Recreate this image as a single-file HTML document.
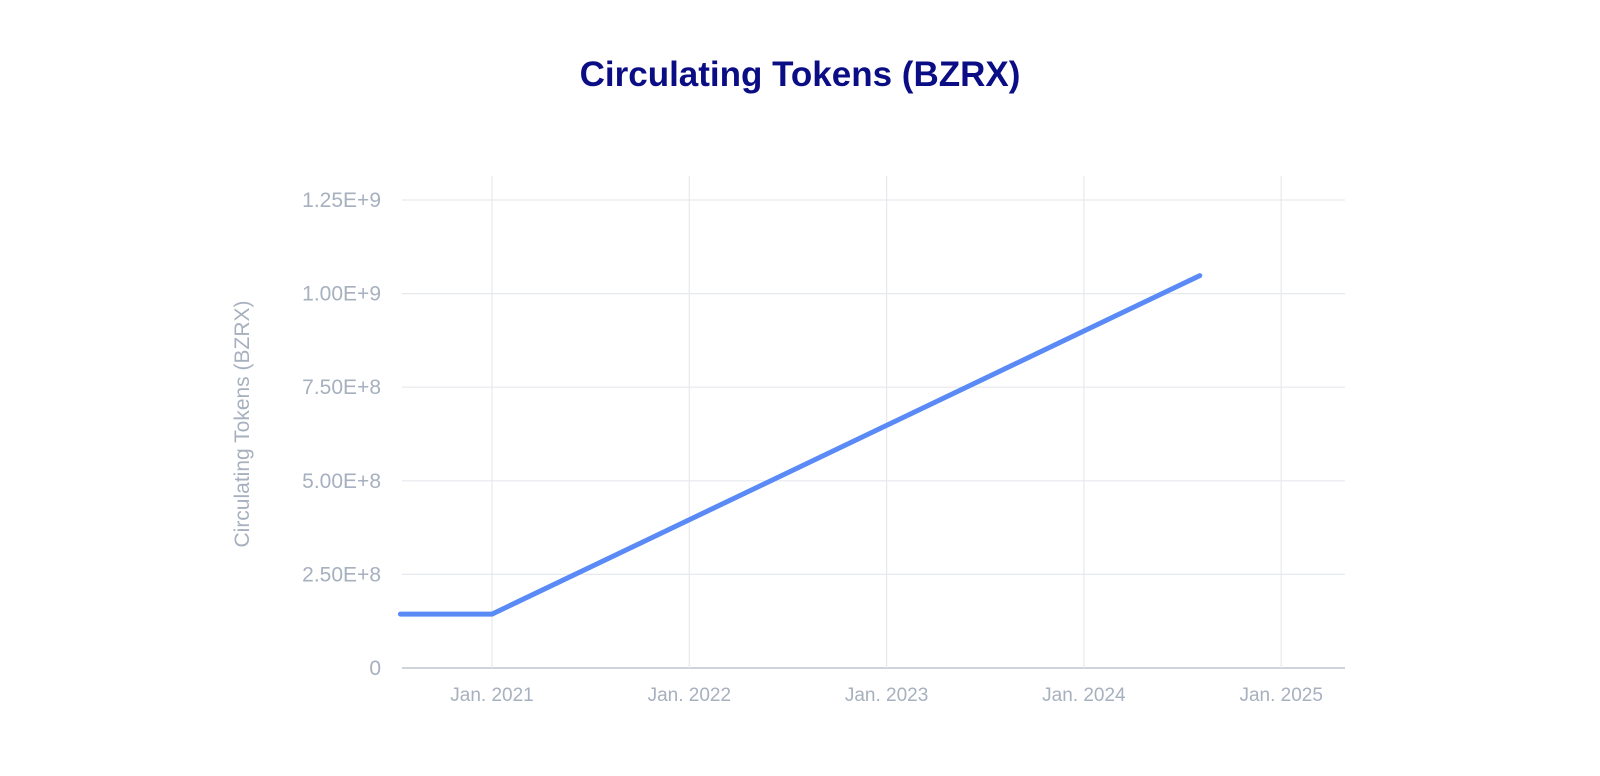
<!DOCTYPE html>
<html><head><meta charset="utf-8"><style>
html,body{margin:0;padding:0;background:#fff;}
svg{display:block;font-family:"Liberation Sans",sans-serif;}
</style></head><body>
<svg id="chart" width="1600" height="776" viewBox="0 0 1600 776">
<text x="800" y="86" text-anchor="middle" font-size="35" font-weight="bold" fill="#0b0d85">Circulating Tokens (BZRX)</text>
<text transform="translate(249,424) rotate(-90)" text-anchor="middle" font-size="21" fill="#a7b0bf">Circulating Tokens (BZRX)</text>
<g id="grid"></g><g id="marks"></g>
</svg>
<script>
const yTicks=[0,2.5e8,5e8,7.5e8,1e9,1.25e9];
const yTickLabels=["0","2.50E+8","5.00E+8","7.50E+8","1.00E+9","1.25E+9"];
const xTicks=[2021,2022,2023,2024,2025];
const xTickLabels=["Jan. 2021","Jan. 2022","Jan. 2023","Jan. 2024","Jan. 2025"];
const dates=["2020-07-15","2021-01-01","2024-08-03"];
const values=[1.44e8,1.44e8,1.048e9];
const NS="http://www.w3.org/2000/svg";
const x0=402,x1=1345,yTop=176;
function xs(t){return 492+(t-2021)*197.3;}
function ys(v){return 668-v/2.5e8*93.6;}
function toYear(s){const d=new Date(s+"T00:00:00Z");const y=d.getUTCFullYear();const a=Date.UTC(y,0,1),b=Date.UTC(y+1,0,1);return y+(d-a)/(b-a);}
function mk(tag,attrs,parent){const e=document.createElementNS(NS,tag);for(const k in attrs)e.setAttribute(k,attrs[k]);parent.appendChild(e);return e;}
const g=document.getElementById('grid'),m=document.getElementById('marks');
yTicks.forEach((v,i)=>{
 const l=mk('line',{x1:x0,x2:x1,y1:ys(v),y2:ys(v),stroke:i==0?'#cfd4dc':'#e6e9ee','stroke-width':i==0?2:1.2},g);
 
 
 const t=mk('text',{x:381,y:ys(v)+7,'text-anchor':'end','font-size':21,fill:'#a7b0bf'},g);
 t.textContent=yTickLabels[i];
 
 
});
xTicks.forEach((v,i)=>{
 const l=mk('line',{x1:xs(v),x2:xs(v),y1:yTop,y2:668,stroke:'#e6e9ee','stroke-width':1.2},g);
 
 
 const t=mk('text',{x:xs(v),y:701,'text-anchor':'middle','font-size':19,fill:'#a7b0bf'},g);
 t.textContent=xTickLabels[i];
 
 
});
const pts=dates.map((d,i)=>xs(toYear(d)).toFixed(1)+","+ys(values[i]).toFixed(1)).join(" ");
const pl=mk('polyline',{points:pts,fill:'none',stroke:'#5a8af6','stroke-width':5,'stroke-linecap':'round','stroke-linejoin':'round'},m);


</script>
</body></html>
